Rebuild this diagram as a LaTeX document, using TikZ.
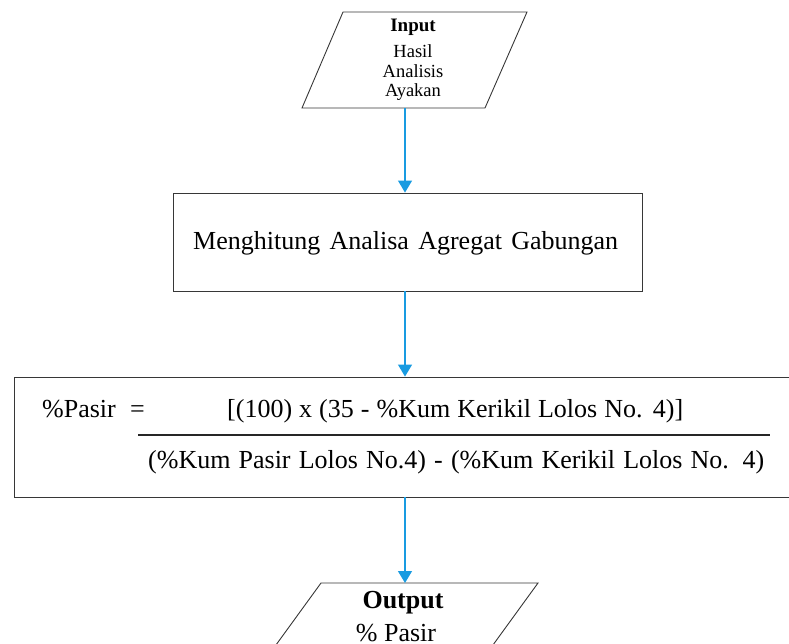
\documentclass[tikz,border=0pt]{standalone}
\usepackage{fontspec}
\setmainfont{Liberation Serif}
\usetikzlibrary{arrows.meta}
\definecolor{flowblue}{RGB}{25,155,225}
\definecolor{edgegray}{RGB}{55,55,55}
\begin{document}
\begin{tikzpicture}[x=1pt,y=-1pt,
  outline/.style={draw=edgegray,line width=0.9pt},
  procbox/.style={outline,rectangle,inner sep=0pt},
  flow/.style={draw=flowblue,line width=1.3pt,-{Triangle[width=14pt,length=12pt]}},
  small/.style={inner sep=0pt,anchor=base,font=\fontsize{18.5}{20}\selectfont},
  big/.style={inner sep=0pt,anchor=base,font=\fontsize{26}{30}\selectfont}]
\useasboundingbox (0,0) rectangle (789,644);

% input parallelogram
\draw[outline] (343,12) -- (527,12) -- (485,108) -- (302,108) -- cycle;
\node[small,font=\fontsize{19}{20}\selectfont\bfseries] (inhead) at (413,32) {Input};
\node[small] (inl1) at (413,58) {Hasil};
\node[small] (inl2) at (413,78) {Analisis};
\node[small] (inl3) at (413,97) {Ayakan};
\coordinate (inbot) at (405,108);

% processing step
\node[procbox,minimum width=469pt,minimum height=98pt] (box) at (407.5,242) {};
\node[big,anchor=base west] (boxtext) at (193,250)
  {\makebox[425pt][s]{Menghitung Analisa Agregat Gabungan}};

% formula box (runs past the right edge)
\node[procbox,minimum width=790pt,minimum height=120pt] (frm) at (409,437) {};
\node[big,anchor=base west] (lhs) at (42,417) {\%Pasir};
\node[big,anchor=base west] (eq) at (130,417) {=};
\node[big,anchor=base west] (num) at (227,417)
  {\makebox[456pt][s]{[(100) x (35 - \%Kum Kerikil Lolos No. 4)]}};
\node[big,anchor=base west] (den) at (148,468)
  {\makebox[616pt][s]{(\%Kum Pasir Lolos No.4) - (\%Kum Kerikil Lolos No. 4)}};
\coordinate (barl) at (138,435);
\coordinate (barr) at (770,435);
\draw[line width=2pt,black!85] (barl) -- (barr);

% output parallelogram
\draw[outline] (321,583) -- (538,583) -- (453,700) -- (236,700) -- cycle;
\node[big,font=\fontsize{26}{30}\selectfont\bfseries] (outhead) at (403,608) {Output};
\node[big] (outl1) at (396,641) {\% Pasir};
\coordinate (outtop) at (405,583);

% connectors
\draw[flow] (inbot) -- (inbot |- box.north);
\draw[flow] (box.south -| inbot) -- (frm.north -| inbot);
\draw[flow] (frm.south -| inbot) -- (outtop);
\end{tikzpicture}
\end{document}
